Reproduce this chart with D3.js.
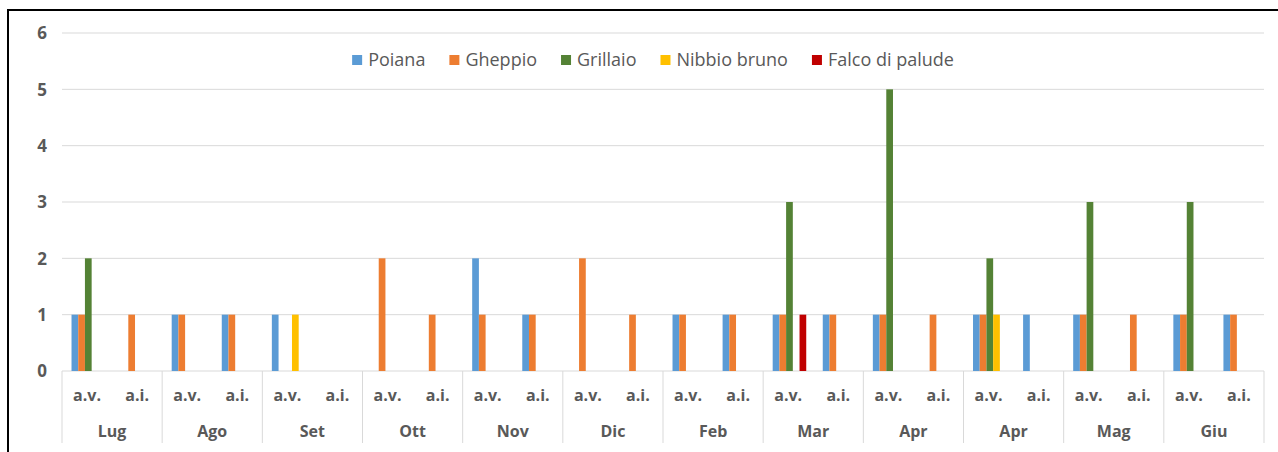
<!DOCTYPE html>
<html>
<head>
<meta charset="utf-8">
<script src="https://cdn.jsdelivr.net/npm/d3@7"></script>
<style>
  body { margin: 0; background: #fff; }
  svg { display: block; }
  text { font-family: "Open Sans", sans-serif; fill: #595959; }
</style>
</head>
<body>
<div id="chart"></div>
<script>
(function(){
    "use strict";

    // months (Apr appears twice in the original sheet)
    var months = ["Lug", "Ago", "Set", "Ott", "Nov", "Dic", "Feb", "Mar", "Apr", "Apr", "Mag", "Giu"];
    var subLabels = ["a.v.", "a.i."];
    var seriesNames = ["Poiana", "Gheppio", "Grillaio", "Nibbio bruno", "Falco di palude"];
    var seriesColors = ["#5B9BD5", "#ED7D31", "#548235", "#FFC000", "#C00000"];
    var yTicks = [0, 1, 2, 3, 4, 5, 6];

    // values per category: Lug a.v., Lug a.i., Ago a.v., ...
    var poiana   = [1,0, 1,1, 1,0, 0,0, 2,1, 0,0, 1,1, 1,1, 1,0, 1,1, 1,0, 1,1];
    var gheppio  = [1,1, 1,1, 0,0, 2,1, 1,1, 2,1, 1,1, 1,1, 1,1, 1,0, 1,1, 1,1];
    var grillaio = [2,0, 0,0, 0,0, 0,0, 0,0, 0,0, 0,0, 3,0, 5,0, 2,0, 3,0, 3,0];
    var nibbio   = [0,0, 0,0, 1,0, 0,0, 0,0, 0,0, 0,0, 0,0, 0,0, 1,0, 0,0, 0,0];
    var falco    = [0,0, 0,0, 0,0, 0,0, 0,0, 0,0, 0,0, 1,0, 0,0, 0,0, 0,0, 0,0];
    var seriesValues = [poiana, gheppio, grillaio, nibbio, falco];

    var width = 1278, height = 452;
    var left = 62, right = 1264, top = 33, bottom = 371;

    var svg = d3.select("#chart").append("svg")
        .attr("width", width)
        .attr("height", height);

    // frame
    svg.append("rect")
        .attr("x", 8).attr("y", 10)
        .attr("width", 1290).attr("height", 460)
        .attr("fill", "none")
        .attr("stroke", "#000")
        .attr("stroke-width", 2);

    // categories: one key per (month, sub)
    var cats = [];
    months.forEach(function(m, i) {
        subLabels.forEach(function(s, j) {
            cats.push({key: i + "-" + j, month: i, sub: s, idx: cats.length});
        });
    });

    var x0 = d3.scaleBand()
        .domain(cats.map(function(d) { return d.key; }))
        .range([left, right])
        .padding(0);
    var bw = x0.bandwidth();

    var x1 = d3.scaleBand()
        .domain(seriesNames)
        .range([bw * 0.19, bw * 0.86])
        .padding(0);

    var xMonth = d3.scaleBand()
        .domain(d3.range(months.length))
        .range([left, right])
        .padding(0);

    var y = d3.scaleLinear()
        .domain([0, 6])
        .range([bottom, top]);

    // gridlines
    svg.append("g").selectAll("line")
        .data(yTicks)
        .enter().append("line")
        .attr("x1", left).attr("x2", right)
        .attr("y1", function(d) { return y(d); })
        .attr("y2", function(d) { return y(d); })
        .attr("stroke", "#d9d9d9")
        .attr("stroke-width", 1);

    // y axis labels
    var yAxis = svg.append("g")
        .attr("transform", "translate(" + (left - 14) + ",0)")
        .call(d3.axisLeft(y).tickValues(yTicks).tickSize(0).tickPadding(0).tickFormat(d3.format("d")));
    yAxis.select(".domain").remove();
    yAxis.selectAll("text")
        .attr("font-size", "17px")
        .attr("font-weight", "bold")
        .attr("fill", "#595959")
        .attr("text-anchor", "middle")
        .attr("dy", "0.35em")
        .attr("x", -6)
        .style("font-family", "'Open Sans', sans-serif");

    // bars
    var rows = [];
    cats.forEach(function(c) {
        seriesNames.forEach(function(s, k) {
            var v = seriesValues[k][c.idx];
            if (v > 0) rows.push({cat: c.key, series: s, color: seriesColors[k], value: v});
        });
    });

    svg.append("g").selectAll("rect")
        .data(rows)
        .enter().append("rect")
        .attr("x", function(d) { return x0(d.cat) + x1(d.series); })
        .attr("width", x1.bandwidth())
        .attr("y", function(d) { return y(d.value); })
        .attr("height", function(d) { return y(0) - y(d.value); })
        .attr("fill", function(d) { return d.color; });

    // category separators
    var seps = d3.range(months.length + 1);
    svg.append("g").selectAll("line")
        .data(seps)
        .enter().append("line")
        .attr("x1", function(d) { return d < months.length ? xMonth(d) : right; })
        .attr("x2", function(d) { return d < months.length ? xMonth(d) : right; })
        .attr("y1", bottom).attr("y2", 443)
        .attr("stroke", "#d9d9d9")
        .attr("stroke-width", 1);

    // sub labels
    svg.append("g").selectAll("text")
        .data(cats)
        .enter().append("text")
        .attr("x", function(d) { return x0(d.key) + bw / 2; })
        .attr("y", 401)
        .attr("text-anchor", "middle")
        .attr("font-size", "16px")
        .attr("font-weight", "bold")
        .text(function(d) { return d.sub; });

    // month labels
    svg.append("g").selectAll("text")
        .data(months)
        .enter().append("text")
        .attr("x", function(d, i) { return xMonth(i) + xMonth.bandwidth() / 2; })
        .attr("y", 437)
        .attr("text-anchor", "middle")
        .attr("font-size", "16px")
        .attr("font-weight", "bold")
        .text(function(d) { return d; });

    // legend
    var legend = svg.append("g");
    var items = legend.selectAll("g")
        .data(seriesNames)
        .enter().append("g");
    items.append("rect")
        .attr("width", 10).attr("height", 10)
        .attr("y", -5)
        .attr("fill", function(d, i) { return seriesColors[i]; });
    items.append("text")
        .attr("x", 16)
        .attr("dy", "0.35em")
        .attr("font-size", "18px")
        .text(function(d) { return d; });

    var pos = 0, offsets = [];
    items.each(function() {
        offsets.push(pos);
        pos += 16 + d3.select(this).select("text").node().getComputedTextLength() + 24;
    });
    var total = pos - 24;
    var startX = 653 - total / 2;
    items.attr("transform", function(d, i) { return "translate(" + (startX + offsets[i]) + ",60)"; });
})();
</script>
</body>
</html>
